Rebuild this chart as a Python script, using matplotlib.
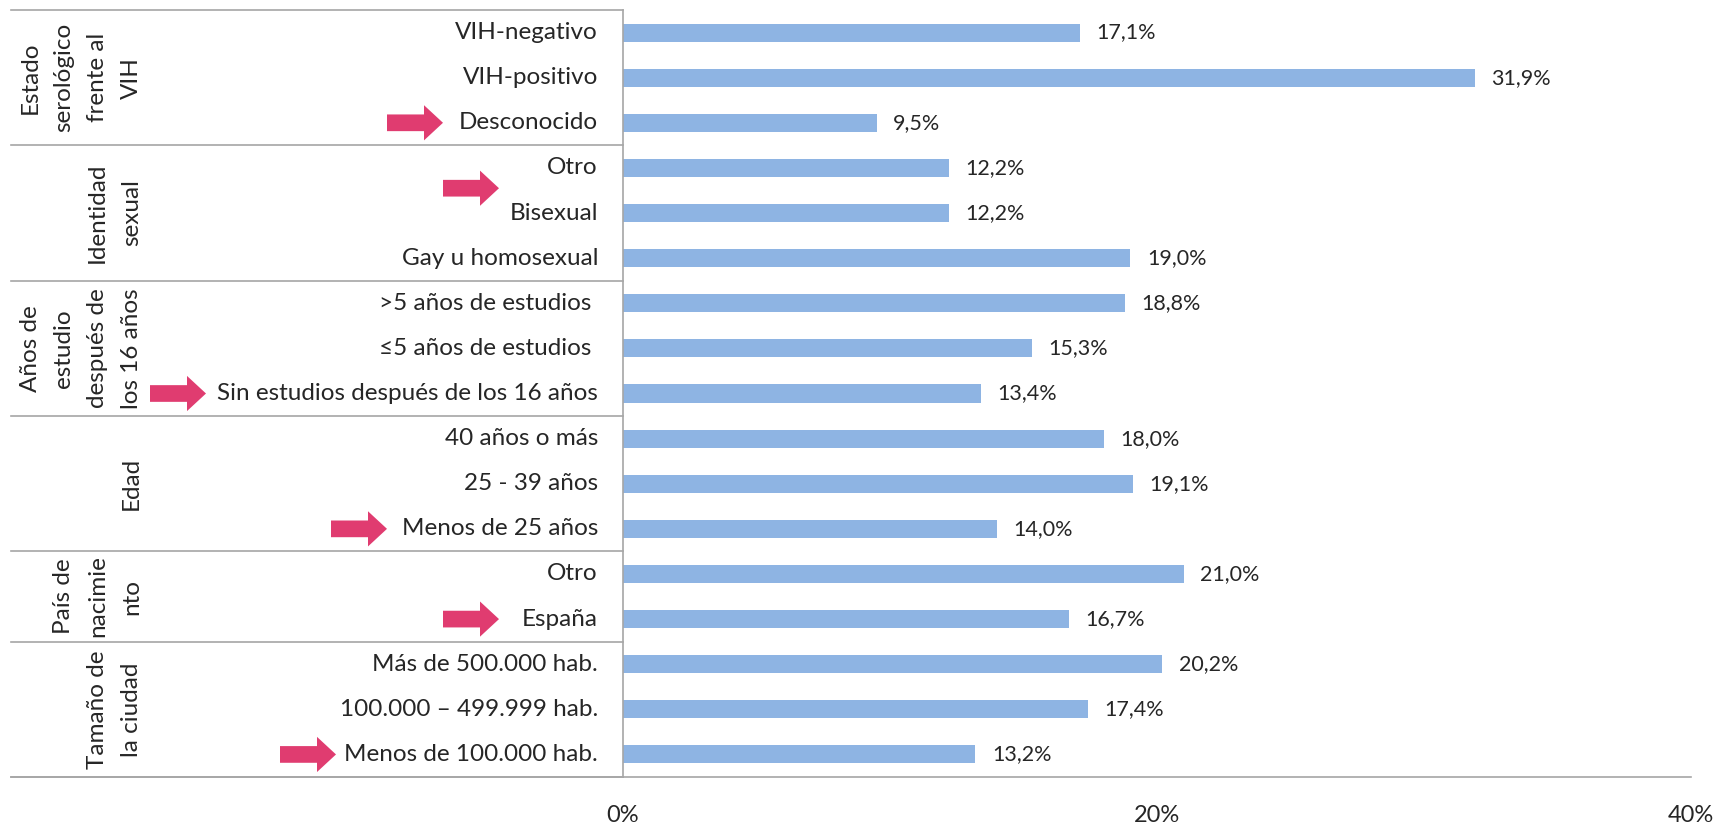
"""Horizontal bar chart with grouped category labels and highlight arrows."""

import matplotlib

matplotlib.use("Agg")

import matplotlib.pyplot as plt  # noqa: E402
from matplotlib import transforms  # noqa: E402
from matplotlib.lines import Line2D  # noqa: E402
from matplotlib.patches import FancyArrow  # noqa: E402

BAR = "#8EB4E3"
INK = "#262626"
LINE = "#A6A6A6"
PINK = "#E03C70"

plt.rcParams["font.family"] = ["Lato", "DejaVu Sans"]

# top to bottom
categories = [
    "VIH-negativo", "VIH-positivo", "Desconocido",
    "Otro", "Bisexual", "Gay u homosexual",
    ">5 años de estudios ", "≤5 años de estudios ", "Sin estudios después de los 16 años",
    "40 años o más", "25 - 39 años", "Menos de 25 años",
    "Otro", "España",
    "Más de 500.000 hab.", "100.000 – 499.999 hab.", "Menos de 100.000 hab.",
]
values = [17.1, 31.9, 9.5, 12.2, 12.2, 19.0, 18.8, 15.3, 13.4,
          18.0, 19.1, 14.0, 21.0, 16.7, 20.2, 17.4, 13.2]

group_names = [
    "Estado\nserológico\nfrente al\nVIH",
    "Identidad\nsexual",
    "Años de\nestudio\ndespués de\nlos 16 años",
    "Edad",
    "País de\nnacimie\nnto",
    "Tamaño de\nla ciudad",
]
group_sizes = [3, 3, 3, 3, 2, 3]

# reference-category arrows: row position (may sit between rows), left edge in px
arrow_rows = [2, 3.45, 8, 11, 13, 16]
arrow_x0 = [387, 443, 150, 331, 443, 280]

x_ticks = [0, 20, 40]
x_tick_labels = ["0%", "20%", "40%"]

W, H = 1721, 823
fig = plt.figure(figsize=(W / 100, H / 100), dpi=100)
fig.patch.set_facecolor("white")
ax = fig.add_axes([623 / W, 1 - 777 / H, (1691 - 623) / W, (777 - 10) / H])

n = len(values)
ypos = list(range(n))
ax.barh(ypos, values, height=0.4, color=BAR, zorder=2)
for y, v in zip(ypos, values):
    ax.annotate(f"{v:.1f}%".replace(".", ","), (v, y), xytext=(12, 0),
                textcoords="offset points", va="center", ha="left",
                fontsize=15.5, color=INK)

ax.set_xlim(0, 40)
ax.set_ylim(n - 0.5, -0.5)
ax.set_xticks(x_ticks)
ax.set_xticklabels(x_tick_labels, fontsize=17, color=INK)
ax.tick_params(axis="x", length=0, pad=20)
ax.set_yticks([])
for side in ("top", "right", "left"):
    ax.spines[side].set_visible(False)
ax.spines["bottom"].set_color(LINE)
ax.spines["bottom"].set_linewidth(1.2)

# category labels, right aligned left of the axis
lab_tr = transforms.blended_transform_factory(fig.transFigure, ax.transData)
for y, c in zip(ypos, categories):
    fig.text(598 / W, y, c, transform=lab_tr, ha="right", va="center",
             fontsize=17.5, color=INK)

# table lines: left vertical at axis, group separators
x_left = 11 / W
x_axis = 623 / W
fig.add_artist(Line2D([x_axis, x_axis], [1 - 10 / H, 1 - 777 / H],
                      transform=fig.transFigure, color=LINE, lw=1.2))
fig.add_artist(Line2D([x_left, x_axis], [1 - 10 / H, 1 - 10 / H],
                      transform=fig.transFigure, color=LINE, lw=1.2))
fig.add_artist(Line2D([x_left, x_axis], [1 - 777 / H, 1 - 777 / H],
                      transform=fig.transFigure, color=LINE, lw=1.2))

start = 0
for name, size in zip(group_names, group_sizes):
    end = start + size
    fig.add_artist(Line2D([x_left, x_axis], [end - 0.5, end - 0.5],
                          transform=lab_tr, color=LINE, lw=1.2))
    mid = (start + end - 1) / 2
    fig.text(142 / W, mid, name, transform=lab_tr, rotation=90,
             ha="right", va="center", multialignment="center",
             fontsize=17.5, color=INK, linespacing=1.75)
    start = end

# pink arrows
for r, x0 in zip(arrow_rows, arrow_x0):
    fig.add_artist(FancyArrow(x0 / W, r, 56 / W, 0, width=0.37,
                              head_width=0.78, head_length=19 / W,
                              length_includes_head=True, transform=lab_tr,
                              color=PINK, lw=0))

fig.savefig("out.png", dpi=100, facecolor="white")
